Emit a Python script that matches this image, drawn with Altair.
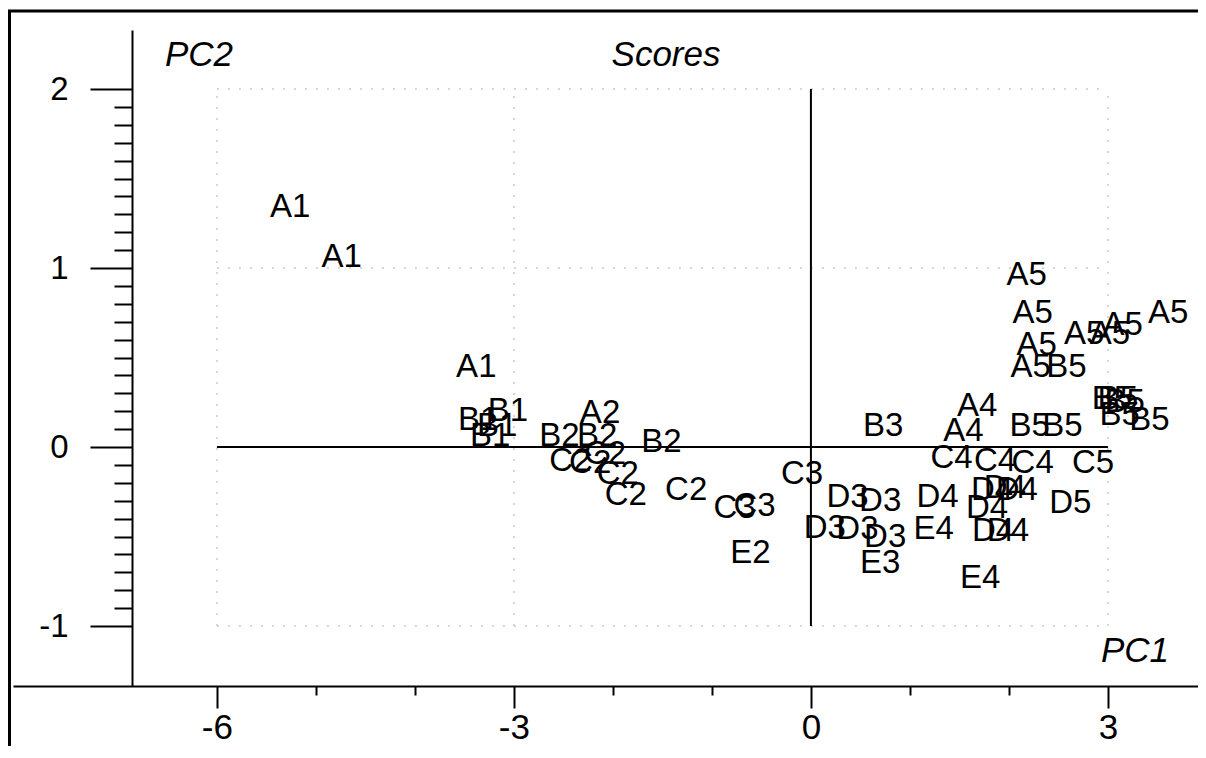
import altair as alt
import pandas as pd

# ---- data (PC1, PC2 scores with sample names) ----
labels = ["A1", "A1", "A1",
          "B1", "B1", "B1", "B1",
          "A2", "B2", "B2", "B2",
          "C2", "C2", "C2", "C2", "C2", "C2",
          "E2", "C3", "C3", "C3",
          "B3", "D3", "D3", "D3", "D3", "D3", "E3",
          "A4", "A4", "C4", "C4", "C4",
          "D4", "D4", "D4", "D4", "D4", "D4", "D4",
          "E4", "E4",
          "A5", "A5", "A5", "A5", "A5", "A5", "A5", "A5",
          "B5", "B5", "B5", "B5", "B5", "B5", "B5", "B5",
          "C5", "D5"]
pc1 = [-5.26, -4.74, -3.38,
       -3.36, -3.24, -3.06, -3.17,
       -2.13, -2.54, -2.16, -1.51,
       -2.43, -2.23, -2.08, -1.95, -1.87, -1.26,
       -0.61, -0.77, -0.57, -0.09,
       0.73, 0.37, 0.70, 0.14, 0.47, 0.75, 0.70,
       1.68, 1.54, 1.42, 1.86, 2.24,
       1.28, 1.83, 1.96, 2.08, 1.78, 1.84, 1.99,
       1.24, 1.71,
       2.18, 2.24, 2.28, 2.22, 2.76, 3.02, 3.15, 3.61,
       2.58, 2.21, 2.54, 3.04, 3.10, 3.17, 3.12, 3.42,
       2.85, 2.62]
pc2 = [1.34, 1.06, 0.45,
       0.15, 0.06, 0.20, 0.12,
       0.19, 0.06, 0.06, 0.03,
       -0.08, -0.09, -0.04, -0.15, -0.27, -0.24,
       -0.59, -0.34, -0.33, -0.15,
       0.12, -0.28, -0.30, -0.45, -0.46, -0.50, -0.65,
       0.23, 0.09, -0.06, -0.08, -0.09,
       -0.28, -0.24, -0.23, -0.24, -0.34, -0.47, -0.47,
       -0.46, -0.73,
       0.96, 0.75, 0.57, 0.45, 0.63, 0.63, 0.68, 0.75,
       0.45, 0.12, 0.12, 0.27, 0.27, 0.25, 0.18, 0.15,
       -0.09, -0.31]

# axis ticks
x_ticks = [-6, -5, -4, -3, -2, -1, 0, 1, 2, 3]
y_ticks = [round(i / 10, 1) for i in range(-10, 21)]

# reference lines through the origin and faint dotted grid
cross_h_x, cross_h_x2, cross_h_y = [-6], [3], [0]
cross_v_x, cross_v_y, cross_v_y2 = [0], [-1], [2]
grid_y = [-1, 1, 2]
grid_x = [-6, -3, 3]

scores = pd.DataFrame({"label": labels, "pc1": pc1, "pc2": pc2})
hline = pd.DataFrame({"x": cross_h_x, "x2": cross_h_x2, "y": cross_h_y})
vline = pd.DataFrame({"x": cross_v_x, "y": cross_v_y, "y2": cross_v_y2})
ghl = pd.DataFrame({"y": grid_y, "x": [-6] * len(grid_y), "x2": [3] * len(grid_y)})
gvl = pd.DataFrame({"x": grid_x, "y": [-1] * len(grid_x), "y2": [2] * len(grid_x)})

xs = alt.Scale(domain=[-8.06, 3.91], nice=False, zero=False)
ys = alt.Scale(domain=[-1.335, 2.33], nice=False, zero=False)

FONT = "Liberation Sans"

xaxis = alt.Axis(
    values=x_ticks, title=None, grid=False,
    domainColor="black", domainWidth=2,
    tickColor="black", tickWidth=2,
    tickSize={"condition": {"test": "datum.value % 3 === 0", "value": 22}, "value": 9},
    labelExpr="datum.value % 3 === 0 ? '' + round(datum.value) : ''",
    labelFont=FONT, labelFontSize=35, labelColor="black", labelPadding=2,
    labelOverlap=False, labelFlush=False, labelBound=False,
)
yaxis = alt.Axis(
    values=y_ticks, title=None, grid=False, offset=-119,
    domainColor="black", domainWidth=2,
    tickColor="black", tickWidth=2,
    tickSize={"condition": {"test": "abs(datum.value - round(datum.value)) < 0.001", "value": 42},
              "value": 18},
    labelExpr="abs(datum.value - round(datum.value)) < 0.001 ? '' + round(datum.value) : ''",
    labelFont=FONT, labelFontSize=33, labelColor="black", labelPadding=22,
    labelOverlap=False, labelFlush=False, labelBound=False,
)

gcol = "#d6d6d6"
grid_h = alt.Chart(ghl).mark_rule(color=gcol, strokeWidth=2, strokeDash=[2, 9]).encode(
    x=alt.X("x:Q", scale=xs, axis=xaxis), x2="x2:Q",
    y=alt.Y("y:Q", scale=ys, axis=yaxis))
grid_v = alt.Chart(gvl).mark_rule(color=gcol, strokeWidth=2, strokeDash=[2, 9]).encode(
    x=alt.X("x:Q", scale=xs, axis=xaxis),
    y=alt.Y("y:Q", scale=ys, axis=yaxis), y2="y2:Q")

h_rule = alt.Chart(hline).mark_rule(color="black", strokeWidth=2).encode(
    x=alt.X("x:Q", scale=xs, axis=xaxis), x2="x2:Q",
    y=alt.Y("y:Q", scale=ys, axis=yaxis))
v_rule = alt.Chart(vline).mark_rule(color="black", strokeWidth=2).encode(
    x=alt.X("x:Q", scale=xs, axis=xaxis),
    y=alt.Y("y:Q", scale=ys, axis=yaxis), y2="y2:Q")

points = alt.Chart(scores).mark_text(
    font=FONT, fontSize=33, color="black", align="center", baseline="middle"
).encode(
    x=alt.X("pc1:Q", scale=xs, axis=xaxis),
    y=alt.Y("pc2:Q", scale=ys, axis=yaxis),
    text="label:N",
)

def annotation(txt, px, py):
    return alt.Chart(pd.DataFrame({"t": [txt]})).mark_text(
        font=FONT, fontSize=35, fontStyle="italic", color="black",
        align="center", baseline="middle"
    ).encode(x=alt.value(px), y=alt.value(py), text="t:N")

ann_scores = annotation("Scores", 653, 25)
ann_pc2 = annotation("PC2", 186, 25)
ann_pc1 = annotation("PC1", 1122, 621)

# picture frame (top and left border of the original figure)
frame_df = pd.DataFrame({"f": [0]})
frame_top = alt.Chart(frame_df).mark_rule(color="black", strokeWidth=3).encode(
    x=alt.value(-5), x2=alt.value(1185), y=alt.value(-19))
frame_left = alt.Chart(frame_df).mark_rule(color="black", strokeWidth=3).encode(
    x=alt.value(-3.5), y=alt.value(-19), y2=alt.value(720))

chart = alt.layer(
    grid_h, grid_v, h_rule, v_rule, points,
    ann_scores, ann_pc2, ann_pc1, frame_top, frame_left
).properties(
    width=1185, height=656,
    autosize=alt.AutoSizeParams(type="none"),
    padding={"left": 5, "top": 22, "right": 0, "bottom": 60},
    background="white",
).configure_view(stroke=None)

chart.save("out.html", embed_options={"renderer": "svg", "actions": False})
